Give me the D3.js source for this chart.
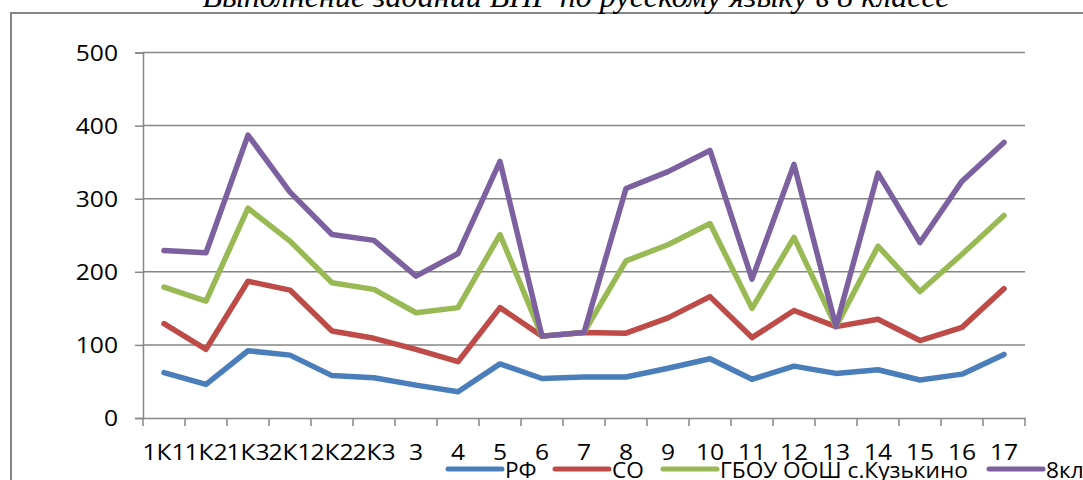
<!DOCTYPE html>
<html><head><meta charset="utf-8">
<script src="https://cdn.jsdelivr.net/npm/d3@7"></script>
<style>
html,body{margin:0;padding:0;background:#fff;overflow:hidden;}
svg{display:block;}
</style></head>
<body>
<svg id="chart" width="1083" height="480"></svg>
<script>
const title = "Выполнение заданий ВПР  по русскому языку в 8 классе";
const categories = ["1К1","1К2","1К3","2К1","2К2","2К3","3","4","5","6","7","8","9","10","11","12","13","14","15","16","17"];
const seriesNames = ["РФ","СО","ГБОУ ООШ с.Кузькино","8кл"];
const rf     = [62, 46, 92, 86, 58, 55, 45, 36, 74, 54, 56, 56, 68, 81, 53, 71, 61, 66, 52, 60, 87];
const so     = [67, 48, 95, 89, 61, 54, 49, 41, 77, 58, 61, 60, 69, 85, 57, 76, 64, 69, 54, 64, 90];
const school = [50, 66, 100, 67, 66, 67, 50, 74, 100, 0, 0, 99, 100, 100, 40, 100, 0, 100, 67, 100, 100];
const kl8    = [50, 66, 100, 67, 66, 67, 50, 74, 100, 0, 0, 99, 100, 100, 40, 100, 0, 100, 67, 100, 100];
const yTicks = [0, 100, 200, 300, 400, 500];
const colors = ["#4A7EBB", "#BE4B48", "#98B954", "#7D60A0"];

const svg = d3.select("#chart");
const font = "'Open Sans', Lato, sans-serif";
const stretch = 1.12;

// frame
svg.append("rect").attr("x", 11).attr("y", 13).attr("width", 1090).attr("height", 500)
  .attr("fill", "none").attr("stroke", "#868686").attr("stroke-width", 2);

// title
const t = svg.append("text").attr("x", 576).attr("y", 7)
  .attr("text-anchor", "middle").attr("font-family", "'Liberation Serif', 'Times New Roman', serif")
  .attr("font-style", "italic").attr("font-size", 24).attr("fill", "#000").text(title);
const tw = t.node().getComputedTextLength();
t.attr("font-size", 24 * 747 / tw);

const x = d3.scaleBand().domain(categories).range([143, 1025]);
const y = d3.scaleLinear().domain([0, 500]).range([418, 52.5]);

// gridlines
svg.append("g").selectAll("line").data(yTicks.filter(d => d > 0)).join("line")
  .attr("x1", 143).attr("x2", 1025).attr("y1", d => y(d)).attr("y2", d => y(d))
  .attr("stroke", "#868686").attr("stroke-width", 1.5);

// y axis
const yAxis = svg.append("g").attr("transform", "translate(143,0)")
  .call(d3.axisLeft(y).tickValues(yTicks).tickSize(8).tickPadding(17));
yAxis.select(".domain").attr("stroke", "#868686").attr("stroke-width", 1.5);
yAxis.selectAll(".tick line").attr("stroke", "#868686").attr("stroke-width", 1.5);
yAxis.selectAll("text").attr("font-family", font).attr("font-size", 22).attr("fill", "#000")
  .attr("dy", "0.36em").attr("x", 0).attr("transform", `translate(-25,0) scale(${stretch},1)`);

// x axis
const xAxis = svg.append("g").attr("transform", "translate(0,418)")
  .call(d3.axisBottom(x).tickSize(0).tickPadding(0));
xAxis.select(".domain").attr("stroke", "#868686").attr("stroke-width", 1.5);
xAxis.selectAll(".tick text").attr("font-family", font).attr("font-size", 22).attr("fill", "#000")
  .attr("dy", 0).attr("y", 42).attr("transform", `scale(${stretch},1)`);
// tick marks between categories
svg.append("g").selectAll("line").data(categories.concat([null])).join("line")
  .attr("x1", (d, i) => 143 + i * x.bandwidth()).attr("x2", (d, i) => 143 + i * x.bandwidth())
  .attr("y1", 418).attr("y2", 426).attr("stroke", "#868686").attr("stroke-width", 1.5);

// stacked data
const table = categories.map((c, i) => ({cat: c, s0: rf[i], s1: so[i], s2: school[i], s3: kl8[i]}));
const stack = d3.stack().keys(["s0", "s1", "s2", "s3"])(table);
const line = d3.line().x(d => x(d.data.cat) + x.bandwidth() / 2).y(d => y(d[1]));

svg.append("g").selectAll("path").data(stack).join("path")
  .attr("d", line).attr("fill", "none")
  .attr("stroke", (d, i) => colors[i]).attr("stroke-width", 5.5)
  .attr("stroke-linejoin", "round").attr("stroke-linecap", "round");

// legend
const legendX = [448, 555, 663, 989];
const lg = svg.append("g").selectAll("g").data(seriesNames).join("g")
  .attr("transform", (d, i) => `translate(${legendX[i]},469)`);
lg.append("line").attr("x1", 0).attr("x2", 54).attr("y1", 0).attr("y2", 0)
  .attr("stroke", (d, i) => colors[i]).attr("stroke-width", 5).attr("stroke-linecap", "round");
const lt = lg.append("text").attr("x", 57).attr("y", 9).attr("font-family", font).attr("font-size", 22)
  .attr("fill", "#000").text(d => d);
const lw = lt.filter((d, i) => i === 2).node().getComputedTextLength();
lt.attr("font-size", 22 * 248 / lw);
</script>
</body></html>
